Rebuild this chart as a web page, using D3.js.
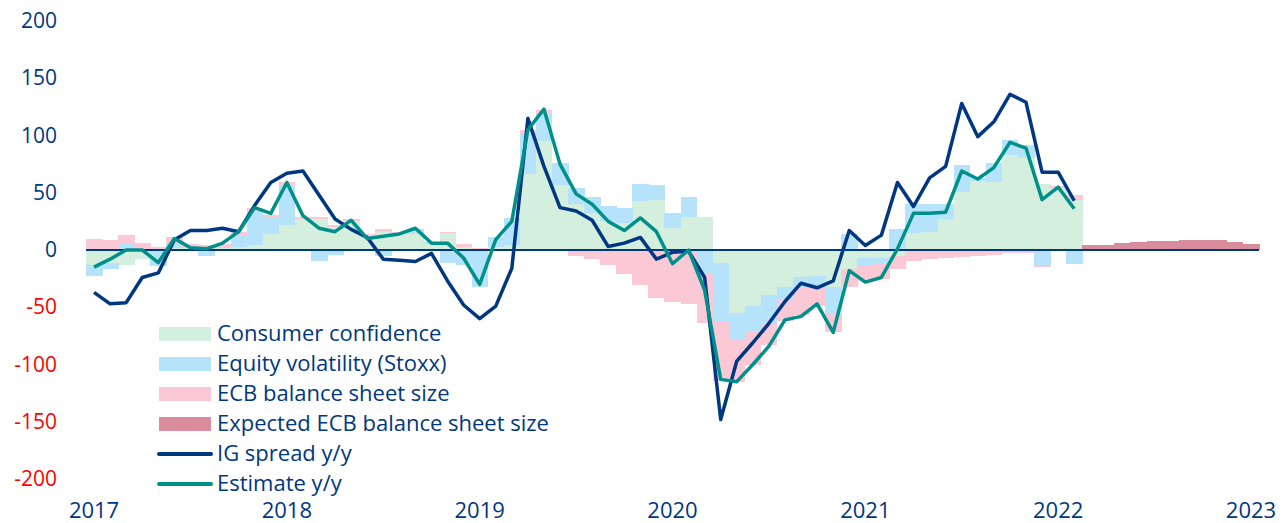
<!DOCTYPE html>
<html>
<head>
<meta charset="utf-8">
<script src="https://cdn.jsdelivr.net/npm/d3@7"></script>
<style>
  body { margin: 0; background: #fff; }
  svg { display: block; font-family: "Open Sans", sans-serif; }
</style>
</head>
<body>
<svg id="chart" width="1283" height="523"></svg>
<script>
// monthly categories Jan 2017 .. Jan 2023
const firstMonth = new Date(2017, 0, 1);
const lastMonth = new Date(2023, 1, 1);
const yearLabels = ["2017", "2018", "2019", "2020", "2021", "2022", "2023"];
const yTicks = [-200, -150, -100, -50, 0, 50, 100, 150, 200];

// contributions, Jan 2017 .. Feb 2022
const consumerConfidence = [-13, -11, -13, -8, 0, 2, 2, 0, 2, 3, 4, 14,
  22, 27, 27, 20, 25, 13, 16, 14, 14, 5, 15, 3,
  1, 3, 4, 66, 95, 57, 40, 32, 25, 24, 43, 44,
  19, 29, 29, -11, -55, -49, -39, -32, -24, -23, -32, -17,
  -7, -7, -5, 15, 16, 27, 51, 60, 59, 83, 80, 58,
  54, 44];
const equityVolatility = [-10, -6, 5, 0, -14, 4, 0, -5, 0, 10, 29, 14,
  35, 0, -10, -4, 0, 0, -5, 1, 4, 2, -11, -13,
  -32, 8, 24, 35, 25, 19, 14, 14, 13, 13, 15, 13,
  13, 17, -21, -52, -24, -22, -25, -11, -8, -9, -24, 14,
  -7, -4, 18, 25, 24, 13, 23, 3, 17, 13, 12, -14,
  0, -12];
const ecbBalanceSheet = [10, 9, 8, 6, 3, 5, 3, 4, 3, 3, 4, 3,
  2, 2, 2, 2, 2, 1, 2, 1, 0, 0, 1, 2,
  1, 0, 0, 4, 2, 0, -5, -8, -13, -21, -31, -42,
  -45, -47, -43, -51, -36, -29, -19, -19, -25, -17, -16, -15,
  -13, -14, -12, -10, -8, -7, -6, -5, -4, -3, -3, -1,
  2, 4];
// Mar 2022 .. Jan 2023
const expectedEcb = [4, 4, 6, 7, 8, 8, 9, 9, 9, 7, 5];

const igSpread = [-37, -47, -46, -24, -20, 9, 17, 17, 19, 16, 39, 59,
  67, 69, 48, 27, 18, 11, -8, -9, -10, -3, -27, -48,
  -60, -49, -16, 115, 73, 37, 34, 26, 3, 6, 11, -8,
  -2, -1, -24, -148, -97, -81, -64, -45, -29, -33, -27, 17,
  4, 13, 59, 38, 63, 73, 128, 99, 112, 136, 129, 68,
  68, 43];
const estimate = [-15, -8, 0, 0, -11, 10, 2, 1, 6, 16, 37, 32,
  59, 30, 19, 16, 26, 10, 12, 14, 19, 6, 6, -7,
  -30, 9, 25, 105, 123, 75, 49, 40, 25, 17, 28, 16,
  -12, 0, -35, -113, -115, -100, -84, -61, -58, -47, -72, -18,
  -28, -24, 1, 32, 32, 33, 69, 62, 72, 94, 89, 44,
  55, 36];

const navy = "#003781";
const teal = "#00908a";
const red = "#ff0000";
const colors = {
  consumer: "#d5efdf",
  equity: "#b4e3fb",
  ecb: "#fbc9d6",
  expected: "#d98c9b"
};

const months = d3.timeMonth.range(firstMonth, lastMonth);
const nHist = consumerConfidence.length;

const table = months.map((m, i) => ({
  month: m,
  consumer: i < nHist ? consumerConfidence[i] : 0,
  equity: i < nHist ? equityVolatility[i] : 0,
  ecb: i < nHist ? ecbBalanceSheet[i] : 0,
  expected: i >= nHist ? expectedEcb[i - nHist] : 0
}));

const svg = d3.select("#chart");

const x = d3.scaleBand()
  .domain(months)
  .range([86, 1259])
  .padding(0);

const y = d3.scaleLinear()
  .domain([-200, 200])
  .range([479, 21]);

// stacked bars, positives up and negatives down
const stack = d3.stack()
  .keys(["consumer", "equity", "ecb", "expected"])
  .offset(d3.stackOffsetDiverging);

svg.append("g")
  .selectAll("g")
  .data(stack(table))
  .join("g")
  .attr("fill", d => colors[d.key])
  .selectAll("rect")
  .data(d => d)
  .join("rect")
  .attr("shape-rendering", "crispEdges")
  .attr("x", d => x(d.data.month))
  .attr("width", x.bandwidth() + 0.5)
  .attr("y", d => y(Math.max(d[0], d[1])))
  .attr("height", d => Math.abs(y(d[0]) - y(d[1])));

// zero line
svg.append("line")
  .attr("x1", x.range()[0])
  .attr("x2", x.range()[1])
  .attr("y1", y(0))
  .attr("y2", y(0))
  .attr("stroke", navy)
  .attr("stroke-width", 2);

// lines
const line = d3.line()
  .x((d, i) => x(months[i]) + x.bandwidth() / 2)
  .y(d => y(d));

svg.append("path")
  .datum(igSpread)
  .attr("fill", "none")
  .attr("stroke", navy)
  .attr("stroke-width", 3.5)
  .attr("stroke-linejoin", "round")
  .attr("d", line);

svg.append("path")
  .datum(estimate)
  .attr("fill", "none")
  .attr("stroke", teal)
  .attr("stroke-width", 3.5)
  .attr("stroke-linejoin", "round")
  .attr("d", line);

// y axis (plain hyphen for negatives, as in the original)
const yAxis = svg.append("g")
  .attr("transform", "translate(57,0)")
  .call(d3.axisLeft(y).tickValues(yTicks).tickFormat(d => String(d))
    .tickSize(0).tickPadding(0));
yAxis.select(".domain").remove();
yAxis.selectAll("text")
  .attr("font-size", 21)
  .attr("font-family", "Open Sans")
  .attr("fill", d => d < 0 ? red : navy);

// x axis, label on each January
const xAxis = svg.append("g")
  .attr("transform", "translate(0,502)")
  .call(d3.axisBottom(x)
    .tickValues(months.filter(m => m.getMonth() === 0))
    .tickFormat((d, i) => yearLabels[i])
    .tickSize(0).tickPadding(0));
xAxis.select(".domain").remove();
xAxis.selectAll("text")
  .attr("font-size", 22)
  .attr("font-family", "Open Sans")
  .attr("fill", navy);

// legend
const legendItems = [
  {label: "Consumer confidence", type: "rect", color: colors.consumer},
  {label: "Equity volatility (Stoxx)", type: "rect", color: colors.equity},
  {label: "ECB balance sheet size", type: "rect", color: colors.ecb},
  {label: "Expected ECB balance sheet size", type: "rect", color: colors.expected},
  {label: "IG spread y/y", type: "line", color: navy},
  {label: "Estimate y/y", type: "line", color: teal}
];

const legend = svg.append("g")
  .selectAll("g")
  .data(legendItems)
  .join("g")
  .attr("transform", (d, i) => "translate(159," + (334 + i * 30) + ")");

legend.filter(d => d.type === "rect")
  .append("rect")
  .attr("x", 0)
  .attr("y", -7)
  .attr("width", 52)
  .attr("height", 14)
  .attr("fill", d => d.color);

legend.filter(d => d.type === "line")
  .append("line")
  .attr("x1", 0)
  .attr("x2", 52)
  .attr("stroke", d => d.color)
  .attr("stroke-width", 4)
  .attr("stroke-linecap", "round");

legend.append("text")
  .attr("x", 58)
  .attr("y", 7)
  .attr("font-size", 22)
  .attr("fill", navy)
  .text(d => d.label);
</script>
</body>
</html>
